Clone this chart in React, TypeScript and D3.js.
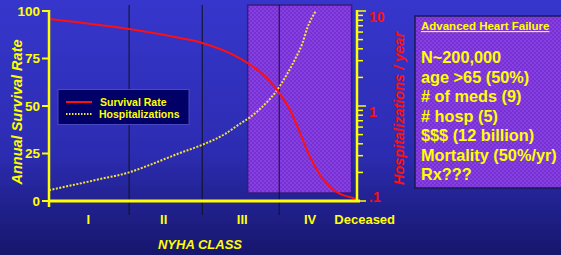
import React from "react";
import * as d3 from "d3";

const survX = [0, 1.04, 1.7, 1.99, 2.48, 2.65, 2.83, 3.0, 3.13, 3.26, 3.35, 3.43, 3.52, 3.65, 3.78, 3.95, 4.0];
const survival = [95.8, 90.5, 85.8, 83.2, 75.1, 70.7, 64.7, 56.3, 47.9, 35.8, 26.8, 20.0, 13.7, 7.4, 3.7, 1.6, 1.0];
const hospX = [0, 0.66, 1.04, 1.31, 1.7, 1.99, 2.29, 2.48, 2.61, 2.74, 2.87, 2.96, 3.07, 3.2, 3.29, 3.36, 3.46];
const hosp = [0.13, 0.17, 0.2, 0.24, 0.32, 0.39, 0.51, 0.65, 0.76, 0.93, 1.19, 1.46, 2.02, 3.16, 4.55, 6.82, 9.83];
const classLabels = ["I", "II", "III", "IV", "Deceased"];
const classPos = [0.51, 1.49, 2.51, 3.39, 4.1];
const dividers = [1.04, 1.99, 2.99];
const advancedBand = [2.58, 3.93];
const leftTicks = [0, 25, 50, 75, 100];
const rightLabels = [
  { v: 10, t: "10" },
  { v: 1, t: "1" },
  { v: 0.1, t: ".1" },
];
const infoTitle = "Advanced Heart Failure";
const infoLines = ["N~200,000", "age >65 (50%)", "# of meds (9)", "# hosp (5)", "$$$ (12 billion)", "Mortality (50%/yr)", "Rx???"];

const FONT = "'Liberation Sans', Arial, sans-serif";
const YEL = "#ffff00";
const RED = "#ff1010";

export default function App() {
  const W = 561, H = 255;
  const x = d3.scaleLinear().domain([0, 4]).range([49, 357]);
  const yL = d3.scaleLinear().domain([0, 100]).range([201, 11]);
  const yR = d3.scaleLog().domain([0.1, 10]).range([201, 11]);

  const survLine = d3
    .line<number>()
    .x((_, i) => x(survX[i]))
    .y((d) => yL(d))
    .curve(d3.curveMonotoneX)(survival) as string;
  const hospLine = d3
    .line<number>()
    .x((_, i) => x(hospX[i]))
    .y((d) => yR(d))
    .curve(d3.curveMonotoneX)(hosp) as string;

  const rTicks = yR.ticks();

  return (
    <svg width={W} height={H} style={{ position: "absolute", left: 0, top: 0, display: "block" }} fontFamily={FONT}>
      <defs>
        <linearGradient id="bg" x1="0" y1="0" x2="0" y2="1">
          <stop offset="0%" stopColor="#3636cc" />
          <stop offset="60%" stopColor="#2c2cb2" />
          <stop offset="100%" stopColor="#16166c" />
        </linearGradient>
        <pattern id="chk" patternUnits="userSpaceOnUse" width="4" height="4">
          <rect width="4" height="4" fill="#7630d4" />
          <rect width="2" height="2" fill="#8640e0" />
          <rect x="2" y="2" width="2" height="2" fill="#8640e0" />
        </pattern>
      </defs>
      <rect width={W} height={H} fill="url(#bg)" />

      {/* advanced band */}
      <rect
        x={x(advancedBand[0])}
        y={5}
        width={x(advancedBand[1]) - x(advancedBand[0])}
        height={188}
        fill="url(#chk)"
        stroke="#3a1a80"
        strokeWidth={1.5}
      />

      {/* dividers */}
      {dividers.map((d, i) => (
        <line key={i} x1={x(d)} x2={x(d)} y1={5} y2={215} stroke="#111122" strokeWidth={1} />
      ))}

      {/* curves */}
      <path d={hospLine} fill="none" stroke="#f4e43a" strokeWidth={2} strokeDasharray="2,1.5" />
      <path d={survLine} fill="none" stroke={RED} strokeWidth={2} />

      {/* axes */}
      <line x1={49} x2={49} y1={10} y2={207} stroke={YEL} strokeWidth={2.5} />
      <line x1={48} x2={360} y1={201} y2={201} stroke={YEL} strokeWidth={3} />
      <line x1={357} x2={357} y1={10} y2={202} stroke={YEL} strokeWidth={2.5} />

      {leftTicks.map((t) => (
        <g key={t}>
          <line x1={42} x2={49} y1={yL(t)} y2={yL(t)} stroke={YEL} strokeWidth={2} />
          <text x={40} y={yL(t)} dy="0.36em" textAnchor="end" fill={YEL} fontWeight="bold" fontSize={13.5}>
            {t}
          </text>
        </g>
      ))}

      {rTicks.map((t, i) => {
        const major = Math.abs(Math.log10(t) - Math.round(Math.log10(t))) < 1e-6;
        return (
          <line key={i} x1={357} x2={major ? 366 : 363} y1={yR(t)} y2={yR(t)} stroke={YEL} strokeWidth={1.5} />
        );
      })}
      {rightLabels.map((r) => (
        <text
          key={r.t}
          x={369}
          y={yR(r.v)}
          dy={r.v < 0.5 ? "0.05em" : "0.75em"}
          fill={RED}
          fontWeight="bold"
          fontSize={14}
        >
          {r.t}
        </text>
      ))}

      {/* axis titles */}
      <text
        transform="translate(22,112) rotate(-90)"
        textAnchor="middle"
        fill={YEL}
        fontWeight="bold"
        fontStyle="italic"
        fontSize={14.5}
      >
        Annual Survival Rate
      </text>
      <text
        transform="translate(404,108.5) rotate(-90)"
        textAnchor="middle"
        fill={RED}
        fontWeight="bold"
        fontStyle="italic"
        fontSize={14.5}
      >
        Hospitalizations / year
      </text>

      {classLabels.map((c, i) => (
        <text key={c} x={x(classPos[i])} y={224} textAnchor="middle" fill={YEL} fontWeight="bold" fontSize={13}>
          {c}
        </text>
      ))}
      <text x={200} y={249} textAnchor="middle" fill={YEL} fontWeight="bold" fontStyle="italic" fontSize={13}>
        NYHA CLASS
      </text>

      {/* legend */}
      <rect x={58} y={89.5} width={131} height={35} fill="#000066" stroke="#4848c0" strokeWidth={1} />
      <line x1={66} x2={92} y1={102} y2={102} stroke={RED} strokeWidth={2} />
      <line x1={66} x2={92} y1={114} y2={114} stroke="#f4e43a" strokeWidth={2} strokeDasharray="1.5,1.5" />
      <text x={100} y={106} fill={YEL} fontWeight="bold" fontSize={10.5}>
        Survival Rate
      </text>
      <text x={99} y={118} fill={YEL} fontWeight="bold" fontSize={10.5}>
        Hospitalizations
      </text>

      {/* info box */}
      <rect x={415} y={16} width={160} height={172} fill="url(#chk)" stroke="#1a1a50" strokeWidth={1.5} />
      <text x={421} y={30} fill={YEL} fontWeight="bold" fontSize={11.5} textDecoration="underline">
        {infoTitle}
      </text>
      {infoLines.map((l, i) => (
        <text key={i} x={421} y={63 + 19.5 * i} fill={YEL} fontWeight="bold" fontSize={16.3}>
          {l}
        </text>
      ))}
    </svg>
  );
}
